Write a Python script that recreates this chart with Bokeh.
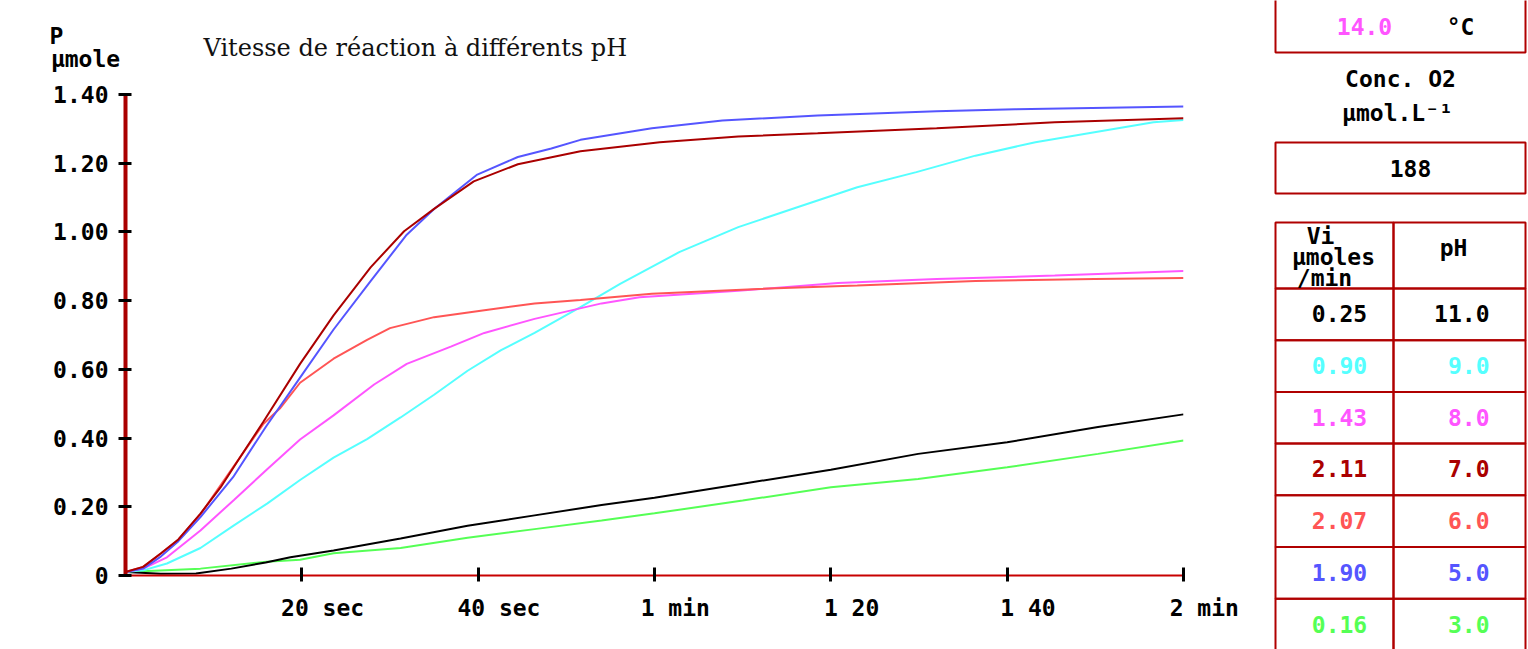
from bokeh.plotting import figure
from bokeh.models import Range1d, FixedTicker, ColumnDataSource
from bokeh.layouts import row, column
from bokeh.embed import file_html
from bokeh.resources import INLINE
from bokeh.core.properties import value

# ---------------- data ----------------
title_text = "Vitesse de réaction à différents pH"
y_caption_1 = "P"
y_caption_2 = "µmole"

x_tick_values = [20, 40, 60, 80, 100, 120]
x_tick_labels = ["20 sec", "40 sec", "1 min", "1 20", "1 40", "2 min"]
y_tick_values = [0, 0.2, 0.4, 0.6, 0.8, 1.0, 1.2, 1.4]
y_tick_labels = ["0", "0.20", "0.40", "0.60", "0.80", "1.00", "1.20", "1.40"]

# time in seconds, product in µmole
t_ph3 = [0, 8.5, 16, 19.8, 23.6, 31.2, 38.8, 46.4, 54, 60, 70, 80, 89.9, 100, 110.3, 120]
p_ph3 = [0.01, 0.02, 0.04, 0.046, 0.065, 0.08, 0.11, 0.135, 0.16, 0.181, 0.218, 0.257, 0.281, 0.315, 0.354, 0.393]

t_ph11 = [0, 4, 8, 12, 15.9, 18.7, 23.6, 31.2, 38.8, 46.4, 54, 60, 70, 80, 89.9, 100, 110.3, 120]
p_ph11 = [0.01, 0.005, 0.006, 0.02, 0.038, 0.053, 0.073, 0.108, 0.145, 0.175, 0.205, 0.226, 0.267, 0.308, 0.354, 0.388, 0.432, 0.469]

t_ph9 = [0, 2, 4.7, 8.5, 12.3, 16.1, 19.8, 23.6, 27.4, 31.2, 35, 38.8, 42.6, 46.4, 51.6, 56.1, 62.8, 69.5, 76.2, 83, 89.7, 96.4, 103.2, 109.9, 116.6, 120]
p_ph9 = [0.01, 0.015, 0.035, 0.08, 0.146, 0.21, 0.278, 0.343, 0.397, 0.46, 0.526, 0.596, 0.656, 0.706, 0.781, 0.849, 0.941, 1.014, 1.072, 1.130, 1.174, 1.222, 1.261, 1.290, 1.319, 1.326]

t_ph8 = [0, 2, 4.7, 8.5, 12.3, 16.1, 19.8, 23.6, 28.2, 31.9, 36.9, 40.7, 46.4, 54, 58.3, 69.5, 80.8, 92, 105.4, 120]
p_ph8 = [0.01, 0.02, 0.053, 0.131, 0.22, 0.31, 0.396, 0.466, 0.556, 0.616, 0.666, 0.706, 0.747, 0.792, 0.810, 0.829, 0.851, 0.863, 0.873, 0.886]

t_ph6 = [0, 2, 4, 6, 8.5, 11.8, 15.6, 17.5, 19.8, 23.6, 27.4, 30, 35, 40.7, 46.4, 51.6, 59.7, 71.8, 83, 96.4, 109.9, 120]
p_ph6 = [0.01, 0.025, 0.064, 0.105, 0.178, 0.30, 0.44, 0.486, 0.561, 0.631, 0.686, 0.72, 0.752, 0.772, 0.792, 0.802, 0.820, 0.834, 0.844, 0.857, 0.863, 0.866]

t_ph5 = [0, 2, 4, 6, 8.5, 12.2, 16, 19.8, 23.6, 27.8, 31.9, 35, 39.9, 44.5, 48.3, 51.6, 59.7, 67.7, 78.5, 92, 100.9, 120]
p_ph5 = [0.01, 0.02, 0.055, 0.10, 0.17, 0.286, 0.436, 0.576, 0.716, 0.857, 0.992, 1.067, 1.167, 1.218, 1.243, 1.268, 1.302, 1.324, 1.339, 1.351, 1.357, 1.365]

t_ph7 = [0, 2, 4, 6, 8.5, 10.8, 13, 15.6, 19.8, 23.6, 27.8, 31.6, 35, 39.5, 44.5, 51.6, 60.6, 69.5, 78.5, 92, 105.4, 120]
p_ph7 = [0.01, 0.025, 0.064, 0.105, 0.18, 0.257, 0.344, 0.446, 0.616, 0.757, 0.897, 1.002, 1.067, 1.147, 1.197, 1.235, 1.261, 1.278, 1.287, 1.302, 1.319, 1.331]

# right-hand table (same order as displayed)
table_vi = ["0.25", "0.90", "1.43", "2.11", "2.07", "1.90", "0.16"]
table_ph = ["11.0", "9.0", "8.0", "7.0", "6.0", "5.0", "3.0"]
table_colors = ["#000000", "#55ffff", "#ff55ff", "#aa0000", "#ff5555", "#5555ff", "#55ff55"]

temperature = "14.0"
temperature_unit = "°C"
conc_label_1 = "Conc. O2"
conc_label_2 = "µmol.L⁻¹"
conc_o2 = "188"
header_vi = ["Vi", "µmoles", "/min"]
header_ph = "pH"

# draw order (bottom to top)
series = [
    (t_ph3, p_ph3, "#55ff55"),
    (t_ph11, p_ph11, "#000000"),
    (t_ph9, p_ph9, "#55ffff"),
    (t_ph8, p_ph8, "#ff55ff"),
    (t_ph6, p_ph6, "#ff5555"),
    (t_ph5, p_ph5, "#5555ff"),
    (t_ph7, p_ph7, "#aa0000"),
]

MONO_NAME = "DejaVu Sans Mono"
MONO = value(MONO_NAME)
FS = "23px"
PAD = "\u00a0\u00a0\u00a0"   # shifts the centred tick labels so they start just left of the tick

def bare(fig):
    fig.outline_line_color = None
    fig.frame_align = False
    fig.background_fill_color = "white"
    fig.border_fill_color = "white"
    return fig

# ---------------- caption strip (title and y caption) ----------------
s = bare(figure(width=1270, height=80, x_range=Range1d(0, 1270), y_range=Range1d(80, 0),
                output_backend="svg", toolbar_location=None, x_axis_type=None,
                y_axis_type=None, min_border=0))
s.grid.visible = False
s.text(x=[203], y=[47], text=[title_text], text_font=value("DejaVu Serif"),
       text_font_size="24px", text_color="#111111", text_align="left", text_baseline="middle")
s.text(x=[56, 85], y=[35, 58], text=[y_caption_1, y_caption_2], text_font=MONO,
       text_font_style="bold", text_font_size=FS, text_color="black",
       text_align="center", text_baseline="middle")

# ---------------- main chart ----------------
p = bare(figure(width=1270, height=569, x_range=Range1d(0, 120), y_range=Range1d(0, 1.4),
                output_backend="svg", toolbar_location=None,
                min_border_left=125, min_border_right=87, min_border_top=14,
                min_border_bottom=74))
p.xgrid.visible = False
p.ygrid.visible = False

for tt, pp, col in series:
    p.line(tt, pp, line_color=col, line_width=2)

xa = p.xaxis[0]
xa.ticker = FixedTicker(ticks=x_tick_values)
xa.major_label_overrides = {v: PAD + l for v, l in zip(x_tick_values, x_tick_labels)}
xa.axis_line_color = "#c80000"
xa.axis_line_width = 2
xa.major_tick_line_color = "black"
xa.major_tick_line_width = 3
xa.major_tick_in = 8
xa.major_tick_out = 6
xa.minor_tick_line_color = None
xa.major_label_standoff = 13
xa.major_label_text_font = MONO_NAME
xa.major_label_text_font_style = "bold"
xa.major_label_text_font_size = FS
xa.major_label_text_color = "black"

ya = p.yaxis[0]
ya.ticker = FixedTicker(ticks=y_tick_values)
ya.major_label_overrides = {v: l for v, l in zip(y_tick_values, y_tick_labels)}
ya.axis_line_color = "#aa0000"
ya.axis_line_width = 4
ya.major_tick_line_color = "black"
ya.major_tick_line_width = 3
ya.major_tick_in = 6
ya.major_tick_out = 7
ya.minor_tick_line_color = None
ya.major_label_standoff = 10
ya.major_label_text_font = MONO_NAME
ya.major_label_text_font_style = "bold"
ya.major_label_text_font_size = FS
ya.major_label_text_color = "black"

# ---------------- right panel ----------------
q = bare(figure(width=258, height=649, x_range=Range1d(1270, 1528), y_range=Range1d(649, 0),
                output_backend="svg", toolbar_location=None, x_axis_type=None,
                y_axis_type=None, min_border=0))
q.grid.visible = False

BORDER = "#b00000"
XL, XM, XR = 1275, 1393, 1525
q.quad(left=[XL, XL], right=[XR, XR], top=[-20, 142], bottom=[52, 193],
       fill_color=None, line_color=BORDER, line_width=2)

TOP, HEAD_BOTTOM, ROW_H = 222, 288, 51.7
lefts, rights, tops, bottoms = [XL, XM], [XM, XR], [TOP, TOP], [HEAD_BOTTOM, HEAD_BOTTOM]
for i in range(len(table_vi)):
    t0 = HEAD_BOTTOM + i * ROW_H
    lefts += [XL, XM]
    rights += [XM, XR]
    tops += [t0, t0]
    bottoms += [t0 + ROW_H, t0 + ROW_H]
q.quad(left=lefts, right=rights, top=tops, bottom=bottoms,
       fill_color=None, line_color=BORDER, line_width=2)

common = dict(text_font=MONO, text_font_style="bold", text_font_size=FS, text_baseline="middle")

q.text(x=[1364], y=[26], text=[temperature], text_color="#ff55ff", text_align="center", **common)
q.text(x=[1460], y=[26], text=[temperature_unit], text_color="black", text_align="center", **common)
q.text(x=[1400, 1397], y=[78, 112], text=[conc_label_1, conc_label_2], text_color="black",
       text_align="center", **common)
q.text(x=[1410], y=[168], text=[conc_o2], text_color="black", text_align="center", **common)
q.text(x=[1320, 1333, 1324], y=[235, 256, 277], text=header_vi, text_color="black",
       text_align="center", **common)
q.text(x=[1453], y=[247], text=[header_ph], text_color="black", text_align="center", **common)

row_y = [HEAD_BOTTOM + ROW_H * (i + 0.5) - 0.5 for i in range(len(table_vi))]
src = ColumnDataSource(dict(vi=table_vi, ph=table_ph, color=table_colors, y=row_y,
                            x1=[1339] * len(table_vi), x2=[1489] * len(table_vi)))
q.text(x="x1", y="y", text="vi", text_color="color", text_align="center", source=src, **common)
q.text(x="x2", y="y", text="ph", text_color="color", text_align="right", source=src, **common)

layout = row(column(s, p, spacing=0), q, spacing=0)
open("out.html", "w").write(file_html(layout, INLINE))
